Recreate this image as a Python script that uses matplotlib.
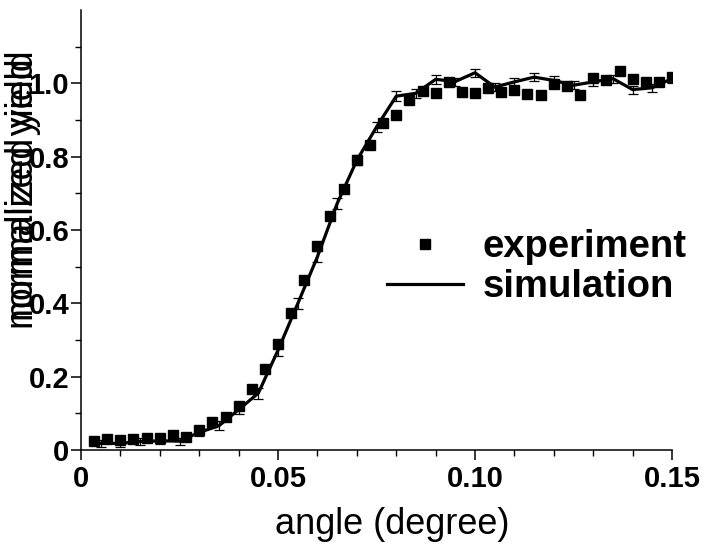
import matplotlib
matplotlib.use("Agg")
import matplotlib.pyplot as plt
from matplotlib.lines import Line2D

plt.rcParams['font.family'] = ['Liberation Sans', 'DejaVu Sans']

# experiment (squares)
exp_x = [0.0033, 0.0067, 0.0100, 0.0133, 0.0167, 0.0200, 0.0233, 0.0267, 0.0300,
         0.0333, 0.0367, 0.0400, 0.0433, 0.0467, 0.0500, 0.0533, 0.0567, 0.0600,
         0.0633, 0.0667, 0.0700, 0.0733, 0.0767, 0.0800, 0.0833, 0.0867, 0.0900,
         0.0933, 0.0967, 0.1000, 0.1033, 0.1067, 0.1100, 0.1133, 0.1167, 0.1200,
         0.1233, 0.1267, 0.1300, 0.1333, 0.1367, 0.1400, 0.1433, 0.1467, 0.1500]
exp_y = [0.025, 0.029, 0.027, 0.030, 0.033, 0.032, 0.040, 0.035, 0.054,
         0.075, 0.091, 0.120, 0.167, 0.220, 0.290, 0.373, 0.465, 0.556,
         0.637, 0.713, 0.791, 0.832, 0.892, 0.915, 0.955, 0.979, 0.974,
         1.005, 0.976, 0.974, 0.988, 0.976, 0.981, 0.972, 0.969, 0.999,
         0.992, 0.969, 1.015, 1.008, 1.035, 1.013, 1.005, 1.005, 1.017]

# simulation (line with error bars)
sim_x = [0.005, 0.010, 0.015, 0.020, 0.025, 0.030, 0.035, 0.040, 0.045, 0.050,
         0.055, 0.060, 0.065, 0.070, 0.075, 0.080, 0.085, 0.090, 0.095, 0.100,
         0.105, 0.110, 0.115, 0.120, 0.125, 0.130, 0.135, 0.140, 0.145, 0.150]
sim_y = [0.018, 0.018, 0.023, 0.025, 0.024, 0.048, 0.066, 0.110, 0.155, 0.272,
         0.399, 0.527, 0.672, 0.790, 0.881, 0.965, 0.973, 1.011, 1.005, 1.029,
         0.990, 1.004, 1.017, 1.008, 0.995, 1.004, 1.013, 0.983, 0.988, 1.013]
sim_err = [0.010, 0.010, 0.010, 0.010, 0.010, 0.010, 0.012, 0.012, 0.015, 0.015,
           0.015, 0.015, 0.015, 0.014, 0.013, 0.013, 0.012, 0.012, 0.011, 0.011,
           0.011, 0.011, 0.011, 0.011, 0.011, 0.011, 0.011, 0.011, 0.011, 0.011]

x_ticks = [0, 0.05, 0.10, 0.15]
x_labels = ['0', '0.05', '0.10', '0.15']
y_ticks = [0, 0.2, 0.4, 0.6, 0.8, 1.0]
y_labels = ['0', '0.2', '0.4', '0.6', '0.8', '1.0']

fig = plt.figure(figsize=(7.1, 5.52), dpi=100)
ax = fig.add_axes([0.1141, 0.1848, 0.8324, 0.797])

ax.errorbar(sim_x, sim_y, yerr=sim_err, fmt='-', color='black', lw=2.3,
            elinewidth=0.9, capsize=3.5, capthick=0.9, zorder=2)
ax.plot(exp_x, exp_y, 's', color='black', markersize=6.5, zorder=3)

ax.set_xlim(0, 0.15)
ax.set_ylim(0, 1.2)
ax.set_xticks(x_ticks)
ax.set_xticklabels(x_labels)
ax.set_yticks(y_ticks)
ax.set_yticklabels(y_labels)
ax.set_xticks([i / 100 for i in range(16)], minor=True)
ax.set_yticks([i / 10 for i in range(12)], minor=True)

for side in ['top', 'right']:
    ax.spines[side].set_visible(False)
for side in ['left', 'bottom']:
    ax.spines[side].set_linewidth(1.1)

ax.tick_params(which='major', direction='out', length=7, width=1.1)
ax.tick_params(which='minor', direction='out', length=4, width=1.0)
ax.tick_params(axis='x', which='major', pad=4)
ax.tick_params(axis='y', which='major', pad=1.5)
for lab in ax.get_xticklabels() + ax.get_yticklabels():
    lab.set_fontweight('bold')
    lab.set_fontsize(21)

handles = [Line2D([], [], marker='s', ls='none', color='black', markersize=6.5),
           Line2D([], [], color='black', lw=2.3)]
fig.legend(handles, ['experiment', 'simulation'], loc='center left',
           bbox_to_anchor=(0.545, 0.516), frameon=False, borderpad=0,
           borderaxespad=0, handlelength=2.0, handletextpad=0.5,
           labelspacing=0.1, prop={'weight': 'bold', 'size': 27.5})

fig.text(392 / 710, 1 - 525 / 552, 'angle (degree)', ha='center', va='center',
         fontsize=26)

# the y label is drawn twice, slightly shifted, as in the original
for dy in [0, 8]:
    fig.text(23 / 710, 1 - (329 - dy) / 552, 'normalized yield', rotation=90,
             ha='center', va='bottom', fontsize=27)

fig.savefig('out.png', dpi=100)
